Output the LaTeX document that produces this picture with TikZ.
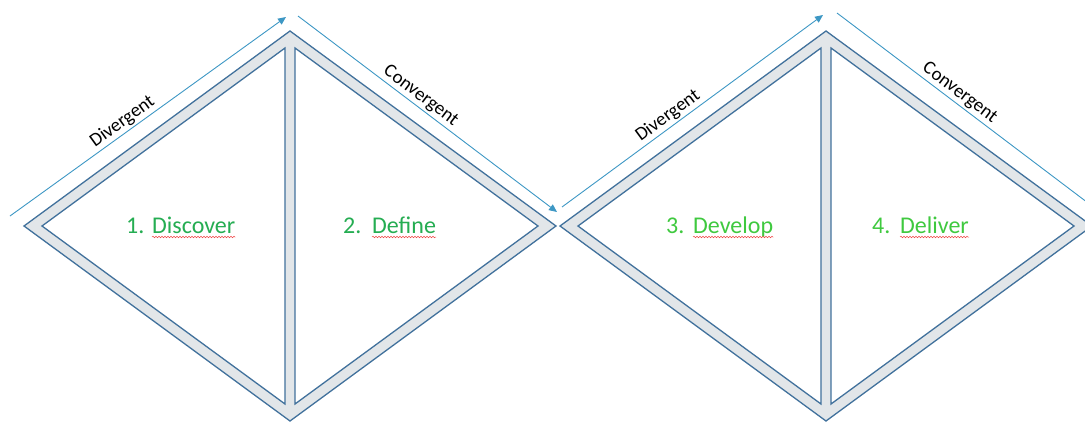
\documentclass[tikz,border=0pt]{standalone}
\usepackage{fontspec}
\setmainfont{Carlito}
\usetikzlibrary{arrows.meta,decorations.pathmorphing,positioning}
\definecolor{edgeblue}{HTML}{41719C}
\definecolor{bandgray}{HTML}{E2E6E9}
\definecolor{arrowblue}{HTML}{3D97C4}
\definecolor{stepgreen}{HTML}{25AD52}
\definecolor{stepgreenlt}{HTML}{3FC93F}
\definecolor{spellred}{HTML}{F04848}
\begin{document}
\begin{tikzpicture}[x=1pt,y=-1pt,
  band/.style={fill=bandgray,draw=edgeblue,line width=1.3pt},
  half/.style={fill=white,draw=edgeblue,line width=1.3pt},
  flow/.style={draw=arrowblue,line width=0.9pt,-{Triangle[length=8pt,width=7pt]}},
  flowlabel/.style={font=\fontsize{19}{21}\selectfont,sloped,above,inner sep=2pt},
  steplabel/.style={font=\fontsize{24}{27}\selectfont,inner sep=0pt,anchor=base west},
  wavy/.style={draw=spellred,line width=0.5pt,decorate,decoration={snake,amplitude=0.8pt,segment length=3pt}}]
\clip (0,0) rectangle (1085,421);
% two diamonds, each split into two triangles
\foreach \cx in {290,826} {
  \path[band] (\cx-266,226) -- (\cx,31) -- (\cx+266,226) -- (\cx,421) -- cycle;
  \path[half] (\cx-248,226) -- (\cx-5,48) -- (\cx-5,404) -- cycle;
  \path[half] (\cx+248,226) -- (\cx+5,48) -- (\cx+5,404) -- cycle;
}
% arrows along the upper edges
\coordinate (div1s) at (10,216);   \coordinate (div1e) at (286,17);
\coordinate (con1s) at (298,16);   \coordinate (con1e) at (557,212);
\coordinate (div2s) at (562,207);  \coordinate (div2e) at (823,15);
\coordinate (con2s) at (837,13);   \coordinate (con2e) at (1096,209);
\draw[flow] (div1s) -- node[flowlabel,pos=0.43] {Divergent} (div1e);
\draw[flow] (con1s) -- node[flowlabel,pos=0.45] {Convergent} (con1e);
\draw[flow] (div2s) -- node[flowlabel,pos=0.43] {Divergent} (div2e);
\draw[flow] (con2s) -- node[flowlabel,pos=0.45] {Convergent} (con2e);
% step names
\node[steplabel,text=stepgreen] (num1) at (126,233) {1.};
\node[steplabel,text=stepgreen] (discover) at (152,233) {Discover};
\node[steplabel,text=stepgreen] (num2) at (343,233) {2.};
\node[steplabel,text=stepgreen] (define) at (372,233) {Define};
\node[steplabel,text=stepgreenlt] (num3) at (666,233) {3.};
\node[steplabel,text=stepgreenlt] (develop) at (693,233) {Develop};
\node[steplabel,text=stepgreenlt] (num4) at (872,233) {4.};
\node[steplabel,text=stepgreenlt] (deliver) at (900,233) {Deliver};
\foreach \w in {discover,define,develop,deliver}
  \draw[wavy] ([yshift=-4pt]\w.base west) -- ([yshift=-4pt]\w.base east);
\end{tikzpicture}
\end{document}
